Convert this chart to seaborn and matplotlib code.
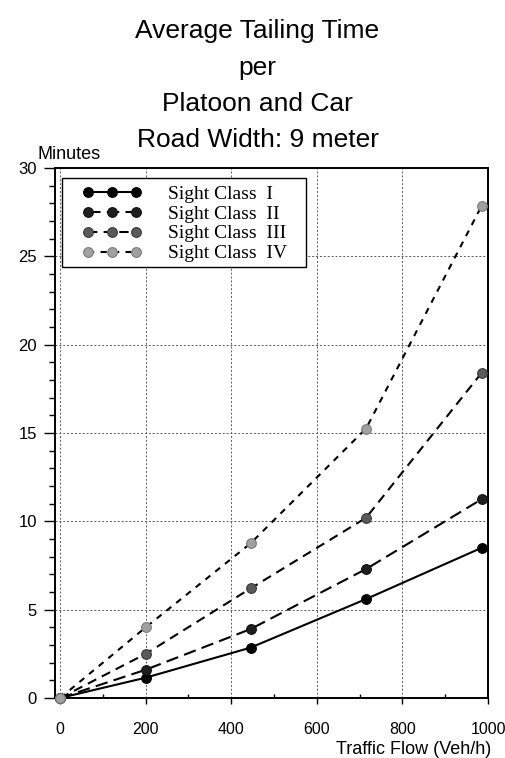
import matplotlib
matplotlib.use("Agg")
import matplotlib.pyplot as plt
from matplotlib.patches import Rectangle
from matplotlib.ticker import MultipleLocator
import seaborn as sns

# Traffic flow (veh/h) and average tailing time (minutes) per sight class
flow = [0, 200, 445, 715, 985]
class_1 = [0.0, 1.15, 2.85, 5.6, 8.5]
class_2 = [0.0, 1.6, 3.9, 7.3, 11.25]
class_3 = [0.0, 2.5, 6.2, 10.2, 18.4]
class_4 = [0.0, 4.0, 8.75, 15.25, 27.85]

series_labels = ["Sight Class  I", "Sight Class  II",
                 "Sight Class  III", "Sight Class  IV"]
title_lines = ["Average Tailing Time", "per", "Platoon and Car",
               "Road Width: 9 meter"]

sns.set_theme(style="ticks")
plt.rcParams["font.family"] = ["Liberation Sans", "DejaVu Sans"]
plt.rcParams["text.color"] = "black"
plt.rcParams["axes.labelcolor"] = "black"

W, H = 505, 758
fig = plt.figure(figsize=(W / 100, H / 100), dpi=100)
# axes box: left spine at x=55 px, right at 488 px, top 168 px, bottom 698 px
ax = fig.add_axes([55 / W, 1 - 698 / H, (488 - 55) / W, (698 - 168) / H])

styles = [
    dict(ls="-", mfc="black", mec="black"),
    dict(ls=(0, (6, 3)), mfc="#1e1e1e", mec="#111111"),
    dict(ls=(0, (4.5, 3)), mfc="#5a5a5a", mec="#3a3a3a"),
    dict(ls=(0, (3, 3)), mfc="#a0a0a0", mec="#7a7a7a"),
]
for values, label, st in zip([class_1, class_2, class_3, class_4],
                             series_labels, styles):
    sns.lineplot(x=flow, y=values, ax=ax, color="black", lw=1.5,
                 linestyle=st["ls"], marker="o", markersize=7,
                 markerfacecolor=st["mfc"], markeredgecolor=st["mec"],
                 markeredgewidth=0.8, label=label, clip_on=False, zorder=3)

ax.set_xlim(-12, 1000)
ax.set_ylim(0, 30)
ax.xaxis.set_major_locator(MultipleLocator(200))
ax.xaxis.set_minor_locator(MultipleLocator(100))
ax.yaxis.set_major_locator(MultipleLocator(5))
ax.yaxis.set_minor_locator(MultipleLocator(1))
ax.tick_params(axis="y", which="major", direction="out", length=8,
               width=1.0, color="black", labelsize=12, labelcolor="black",
               pad=5)
ax.tick_params(axis="y", which="minor", direction="out", length=4,
               width=1.0, color="black")
ax.tick_params(axis="x", which="major", direction="out", length=4,
               width=1.0, color="black", labelsize=11.5, labelcolor="black",
               pad=13)
ax.tick_params(axis="x", which="minor", direction="in", length=3,
               width=1.0, color="black")

ax.grid(True, which="major", ls=(0, (2, 2)), color="0.35", lw=0.7)
for sp in ax.spines.values():
    sp.set_visible(True)
    sp.set_color("black")
    sp.set_linewidth(1.4)

ax.set_xlabel("")
ax.set_ylabel("")
fig.text(0.075, 1 - 163 / H, "Minutes", fontsize=13, ha="left",
         va="bottom")
fig.text(491 / W, 1 - 750 / H, "Traffic Flow (Veh/h)", fontsize=13,
         ha="right", va="center")

title_y = [31, 68, 104, 140]
for yp, line in zip(title_y, title_lines):
    fig.text(0.51, 1 - yp / H, line, fontsize=19, ha="center", va="center")


def px_to_axes(px, py):
    return ((px - 55) / (488 - 55), (698 - py) / (698 - 168))


# legend frame drawn as a plain box, legend entries placed inside it
x0, y1 = px_to_axes(62, 178)
x1, y0 = px_to_axes(306, 267)
ax.add_patch(Rectangle((x0, y0), x1 - x0, y1 - y0, transform=ax.transAxes,
                       facecolor="white", edgecolor="black", lw=1.0,
                       zorder=4))
lx, ly = px_to_axes(82, 185)
leg = ax.legend(loc="upper left", bbox_to_anchor=(lx, ly),
                numpoints=3, handlelength=3.1, handletextpad=1.3,
                labelspacing=0.12, borderpad=0.0, borderaxespad=0.0,
                frameon=False,
                prop={"family": ["Liberation Serif", "DejaVu Serif"],
                      "size": 14})
leg.set_zorder(5)

fig.savefig("out.png", dpi=100, facecolor="white")
